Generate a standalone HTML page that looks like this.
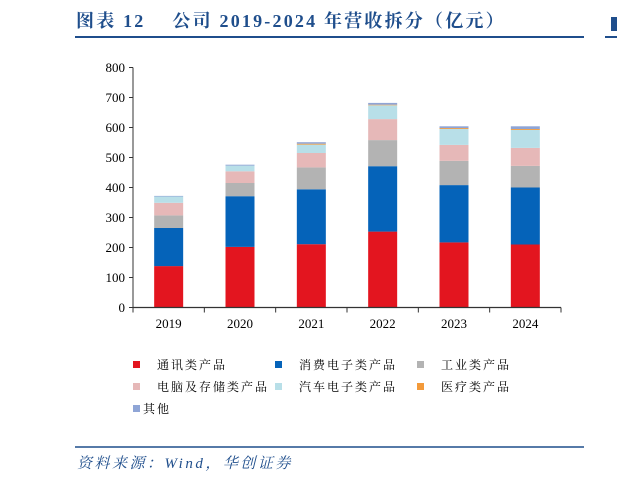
<!DOCTYPE html>
<html><head><meta charset="utf-8"><style>
body{margin:0;background:#fff;width:617px;height:482px;overflow:hidden;font-family:"Liberation Serif","Noto Serif CJK SC",serif;}
svg text{font-family:"Liberation Serif","Noto Serif CJK SC",serif;}
</style></head><body>
<svg width="617" height="482">
<text x="76" y="27" font-size="18" font-weight="bold" letter-spacing="2.2" fill="#1f4e8c">图表 12　 公司 2019-2024 年营收拆分（亿元）</text>
<line x1="75" y1="37" x2="584" y2="37" stroke="#1f4e8c" stroke-width="2"/>
<rect x="611" y="17" width="6" height="14" fill="#1f4e8c"/>
<line x1="605" y1="37" x2="617" y2="37" stroke="#1f4e8c" stroke-width="2"/>
<g id="plot"></g>
<g id="legend"></g>
<line x1="75" y1="447" x2="584" y2="447" stroke="#1f4e8c" stroke-width="1.5"/>
<text x="77" y="468" font-size="15" font-style="italic" letter-spacing="2.5" fill="#1f4e8c">资料来源：Wind，华创证券</text>
</svg>
<script>
const categories=["2019","2020","2021","2022","2023","2024"];
const seriesNames=["通讯类产品","消费电子类产品","工业类产品","电脑及存储类产品","汽车电子类产品","医疗类产品","其他"];
const comms=[138,202,211,253,217,210];
const consumer=[127,169,183,218,191,190];
const industrial=[42,44,73,87,81,72];
const computer=[42,39,48,70,53,60];
const auto=[21,19,28,46,53,60];
const medical=[0,0,3,2,3,3];
const other=[2,3,5,6,6,9];
const yTicks=[0,100,200,300,400,500,600,700,800];
const colors=["#e3151f","#0563b9","#b3b3b3","#e6b8b8","#b8dfe8","#f39a3a","#8fa5d6"];
const series=[comms,consumer,industrial,computer,auto,medical,other];
const NS="http://www.w3.org/2000/svg";
const x0=133,x1=561,y0=307.5,yTop=67.5,yMax=800;
const y=v=>y0-(v/yMax)*(y0-yTop);
const band=(x1-x0)/categories.length;
const xc=i=>x0+band*(i+0.5);
const bw=29;
const plot=document.getElementById('plot');
function mk(t,a,p){const e=document.createElementNS(NS,t);for(const k in a)e.setAttribute(k,a[k]);(p||plot).appendChild(e);return e;}
let ax=mk('line',{x1:x0,y1:yTop,x2:x0,y2:y0,stroke:'#333','stroke-width':1});


yTicks.forEach(t=>{
 const l=mk('line',{x1:x0-4,y1:y(t),x2:x0,y2:y(t),stroke:'#333'});
 
 
 const tx=mk('text',{x:x0-8,y:y(t)+4.5,'font-size':13,'text-anchor':'end',fill:'#000'});
 tx.textContent=t;
 
 
});
categories.forEach((c,i)=>{
 let base=0;
 series.forEach((s,k)=>{
  const v=s[i];
  if(v>0){
   const r=mk('rect',{x:xc(i)-bw/2,y:y(base+v),width:bw,height:y(base)-y(base+v),fill:colors[k]});
   
   
  }
  base+=v;
 });
 const tx=mk('text',{x:xc(i),y:328,'font-size':13,'text-anchor':'middle',fill:'#000'});
 tx.textContent=c;
 
 
});
for(let i=0;i<=categories.length;i++){
 const l=mk('line',{x1:x0+band*i,y1:y0,x2:x0+band*i,y2:y0+5,stroke:'#333'});
 
 
}
let xa=mk('line',{x1:x0,y1:y0,x2:x1,y2:y0,stroke:'#333','stroke-width':1.2});


const leg=document.getElementById('legend');
seriesNames.forEach((n,k)=>{
 const col=k%3,row=Math.floor(k/3);
 const lx=[133,275,417][col],ly=365+row*22;
 const g=mk('g',{},leg);
 
 
 mk('rect',{x:lx,y:ly-4,width:7,height:7,fill:colors[k]},g);
 const t=mk('text',{x:k==6?lx+10:lx+24,y:ly+4,'font-size':12,'letter-spacing':2,fill:'#000'},g);
 t.textContent=n;
});
</script>
</body></html>
